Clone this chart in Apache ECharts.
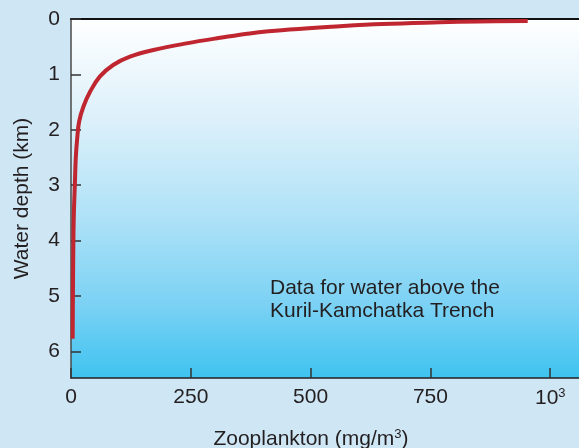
<!DOCTYPE html>
<html>
<head>
<meta charset="utf-8">
<script src="https://cdn.jsdelivr.net/npm/echarts@6/dist/echarts.min.js"></script>
<style>
html,body{margin:0;padding:0;background:#cfe6f5;}
#c{width:579px;height:448px;}
</style>
</head>
<body>
<div id="c"></div>
<script>
// Data
const zooplankton = [953, 850, 769, 650, 561, 456, 373, 311, 241, 172, 123, 88, 60, 40, 26, 17, 13, 10, 8, 6, 5, 4, 3.5];
const depthKm     = [0.035, 0.045, 0.06, 0.09, 0.13, 0.19, 0.26, 0.34, 0.44, 0.56, 0.68, 0.83, 1.04, 1.31, 1.58, 1.85, 2.15, 2.5, 3.0, 3.5, 4.0, 5.0, 5.77];
const xTicks = [0, 250, 500, 750, 1000];
const yTicks = [0, 1, 2, 3, 4, 5, 6];
const annotation = ['Data for water above the', 'Kuril-Kamchatka Trench'];

const txt = '#231f20';
const FONT = 'Liberation Sans, Arial, Helvetica, sans-serif';
const FS = 21;

const chart = echarts.init(document.getElementById('c'), null, {renderer: 'canvas'});
chart.setOption({
  backgroundColor: '#cfe6f5',
  animation: false,
  textStyle: {fontFamily: FONT, color: txt},
  grid: {
    left: 71, right: 0, top: 19, bottom: 70, containLabel: false,
    outerBoundsMode: 'none',
    show: true, borderWidth: 0,
    backgroundColor: {
      type: 'linear', x: 0, y: 0, x2: 0, y2: 1,
      colorStops: [
        {offset: 0, color: '#ffffff'},
        {offset: 0.3, color: '#d9effa'},
        {offset: 0.55, color: '#afe2f7'},
        {offset: 0.8, color: '#7ad1f4'},
        {offset: 1, color: '#3fc3f0'}
      ]
    }
  },
  xAxis: [{
    type: 'value', min: 0, max: 1060, interval: 250, position: 'bottom',
    name: '{a|Zooplankton (mg/m}{b|3}{a|)}',
    nameLocation: 'middle', nameGap: 50,
    nameTextStyle: {
      padding: [0, 28, 0, 0],
      rich: {
        a: {fontSize: FS, color: txt, fontFamily: FONT},
        b: {fontSize: 13, color: txt, fontFamily: FONT, verticalAlign: 'top', padding: [0, 0, 10, 0]}
      }
    },
    axisLine: {show: true, onZero: false, lineStyle: {color: '#231f20', width: 1.5}},
    axisTick: {show: true, inside: true, length: 10, lineStyle: {color: '#333', width: 1.5}},
    splitLine: {show: false},
    axisLabel: {
      margin: 9, fontSize: FS, color: txt, fontFamily: FONT,
      showMaxLabel: false,
      formatter: function (v) {
        if (xTicks.indexOf(v) < 0) return '';
        if (v === 1000) return '{a|10}{b|3}';
        return '{a|' + v + '}';
      },
      rich: {
        a: {fontSize: FS, color: txt, fontFamily: FONT},
        b: {fontSize: 13, color: txt, fontFamily: FONT, verticalAlign: 'top', padding: [0, 0, 10, 0]}
      }
    }
  }, {
    type: 'value', min: 0, max: 1060, position: 'top',
    axisLine: {show: true, onZero: false, lineStyle: {color: '#111', width: 2}},
    axisTick: {show: false}, axisLabel: {show: false}, splitLine: {show: false}
  }],
  yAxis: {
    type: 'value', inverse: true, min: 0, max: 6.48, interval: 1,
    name: 'Water depth (km)', nameLocation: 'middle', nameGap: 38, nameRotate: 90,
    nameTextStyle: {fontSize: FS, color: txt, fontFamily: FONT},
    axisLine: {show: true, onZero: false, lineStyle: {color: '#4a4a4a', width: 1.5}},
    axisTick: {show: true, inside: true, length: 10, lineStyle: {color: '#333', width: 1.5}},
    splitLine: {show: false},
    axisLabel: {
      margin: 11, fontSize: FS, color: txt, fontFamily: FONT, showMaxLabel: false,
      formatter: function (v) { return yTicks.indexOf(v) >= 0 ? String(v) : ''; }
    }
  },
  series: [{
    type: 'line',
    xAxisIndex: 0,
    data: zooplankton.map((z, i) => [z, depthKm[i]]),
    smooth: 0.4,
    symbol: 'none',
    lineStyle: {color: '#bf2630', width: 4, cap: 'butt'},
    z: 5
  }],
  graphic: [{
    type: 'text', left: 270, top: 277,
    style: {
      text: annotation.join('\n'), fill: txt, fontSize: FS, lineHeight: 23,
      fontFamily: FONT
    }
  }]
});
</script>
</body>
</html>
